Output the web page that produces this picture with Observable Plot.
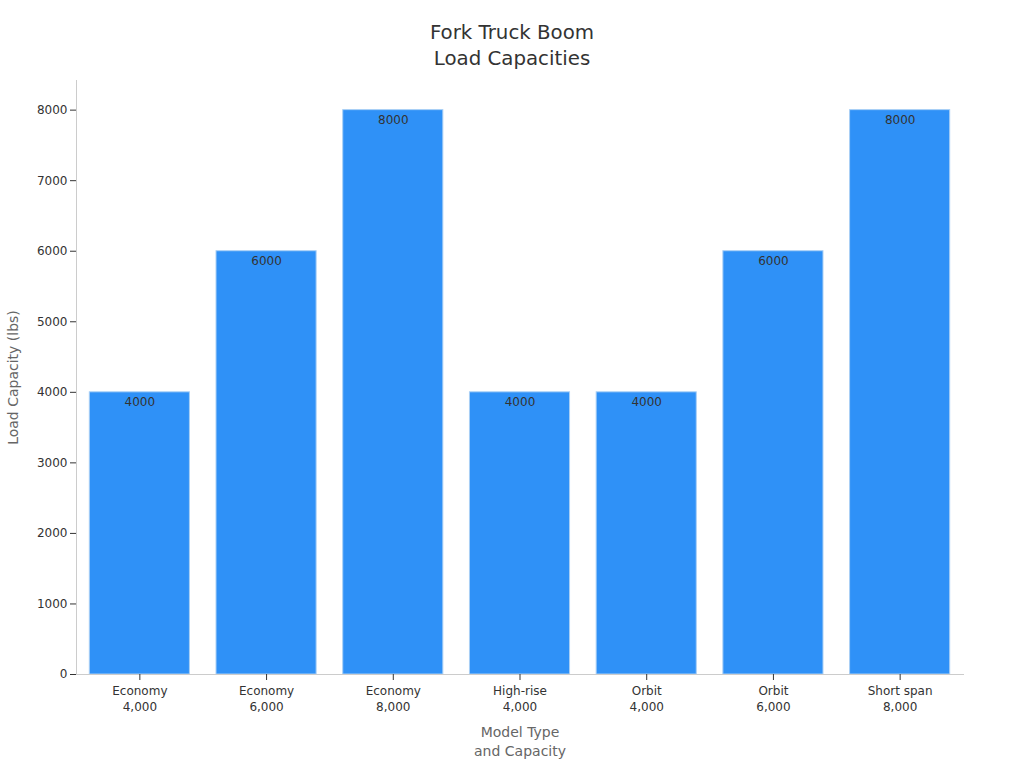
<!DOCTYPE html>
<html>
<head>
<meta charset="utf-8">
<script src="https://cdn.jsdelivr.net/npm/d3@7"></script>
<script src="https://cdn.jsdelivr.net/npm/@observablehq/plot@0.6"></script>
<style>
  html, body { margin: 0; padding: 0; background: #fff; }
  body { width: 1024px; height: 768px; overflow: hidden; font-family: "DejaVu Sans", sans-serif; }
  #title { text-align: center; font-size: 19.8px; line-height: 26px; color: #333; padding-top: 20px; height: 56px; }
  #chart svg { display: block; }
</style>
</head>
<body>
<div id="title">Fork Truck Boom<br>Load Capacities</div>
<div id="chart"></div>
<script>
const categories = ["Economy\n4,000", "Economy\n6,000", "Economy\n8,000", "High-rise\n4,000", "Orbit\n4,000", "Orbit\n6,000", "Short span\n8,000"];
const capacities = [4000, 6000, 8000, 4000, 4000, 6000, 8000];
const yTicks = [0, 1000, 2000, 3000, 4000, 5000, 6000, 7000, 8000];

const data = categories.map((c, i) => ({cat: c, value: capacities[i]}));

const chart = Plot.plot({
  width: 1024,
  height: 692,
  marginTop: 4,
  marginLeft: 76,
  marginRight: 61,
  marginBottom: 94,
  style: {fontFamily: "DejaVu Sans", fontSize: "12px", color: "#333", background: "#fff"},
  x: {domain: categories, paddingInner: 0.21, paddingOuter: 0.105, round: false},
  y: {domain: [0, 8420]},
  marks: [
    Plot.barY(data, {x: "cat", y: "value", fill: "#2f91f7", stroke: "#a9cff5", strokeWidth: 1}),
    Plot.text(data, {x: "cat", y: "value", text: d => String(d.value), dy: 10, fill: "#333", fontSize: 12}),
    Plot.frame({anchor: "left", stroke: "#ccc"}),
    Plot.frame({anchor: "bottom", stroke: "#ccc"}),
    Plot.axisY({ticks: yTicks, tickFormat: d => String(d), label: null, tickSize: 6, tickPadding: 3, stroke: "#333", fill: "#333"}),
    Plot.axisX({label: null, tickSize: 6, tickPadding: 3, lineHeight: 1.33, stroke: "#333", fill: "#333"}),
    Plot.text(["Load Capacity (lbs)"], {frameAnchor: "left", dx: -63, rotate: -90, textAnchor: "middle", lineAnchor: "middle", fontSize: 14, fill: "#666", text: d => d}),
    Plot.text(["Model Type\nand Capacity"], {frameAnchor: "bottom", dy: 65.5, lineAnchor: "middle", textAnchor: "middle", fontSize: 14, lineHeight: 1.36, fill: "#666", text: d => d})
  ]
});
document.getElementById("chart").appendChild(chart);
</script>
</body>
</html>
